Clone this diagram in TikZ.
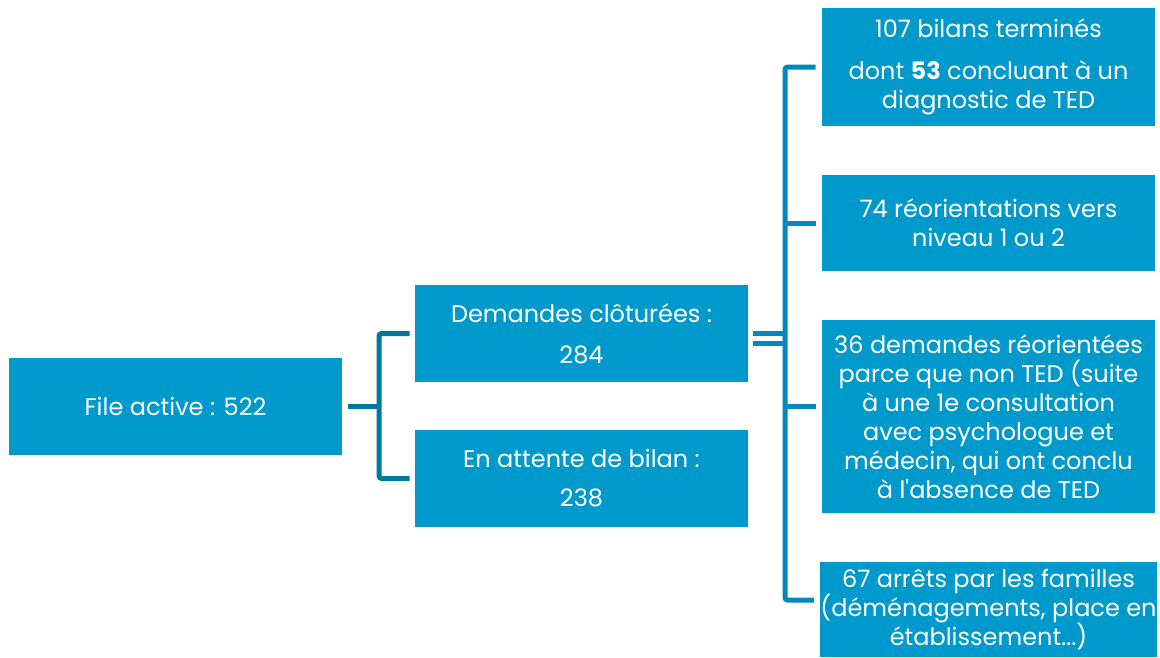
\documentclass[tikz,border=0pt]{standalone}
\usepackage{fontspec}
\setmainfont{Poppins}
\newfontfamily\plainpop{Poppins}
\usetikzlibrary{calc}
\definecolor{boxc}{HTML}{0099CC}
\definecolor{connl}{HTML}{00789F}
\definecolor{connr}{HTML}{0089BD}
\begin{document}
\begin{tikzpicture}[x=0.75pt,y=-0.75pt,
  box/.style={fill=boxc, text=white, inner sep=0pt, minimum width=249.75pt, align=center,
    font=\fontsize{18}{21.75}\selectfont},
  connL/.style={draw=connl, line width=3.75pt, rounded corners=2pt},
  connR/.style={draw=connr, line width=3.75pt, rounded corners=2pt}]
\useasboundingbox (0,0) rectangle (1160,657);

\node[box, minimum height=72.75pt] (file) at (175.5,406.5) {File active : 522};
\node[box, minimum height=72.75pt] (dem) at (581.5,333.5) {Demandes clôturées :\\[9pt]284};
\node[box, minimum height=72.75pt] (att) at (581.5,478.5) {En attente de bilan :\\[7.5pt]238};
\node[box, minimum height=88.5pt] (r1) at (988.5,67) {107 bilans terminés\\[10pt]dont \textbf{53} concluant à un\\diagnostic de TED};
\node[box, minimum height=72pt] (r2) at (988.5,223) {74 réorientations vers\\niveau 1 ou 2};
\node[box, minimum height=144.75pt] (r3) at (988.5,416.5) {36 demandes réorientées\\parce que non TED (suite\\à une 1e consultation\\avec psychologue et\\médecin, qui ont conclu\\à l{\plainpop '}absence de TED};
\node[box, minimum height=71.25pt] (r4) at (988.5,609.5) {67 arrêts par les familles\\(déménagements, place en\\établissement...)};

% left bracket
\coordinate (jl) at (379,406.5);
\draw[connL] ([xshift=4.5pt]file.east) -- (jl);
\draw[connL] ([xshift=-3.75pt]dem.west) -| (jl) |- ([xshift=-3.75pt]att.west);

% right bracket
\coordinate (jr) at (785,333.5);
\draw[connR] ([xshift=-4.5pt]r1.west) -| (jr) |- ([xshift=-4.5pt,yshift=7pt]r4.west);
\draw[connR] (jr |- r2.west) -- ([xshift=-4.5pt]r2.west);
\draw[connR] ($(jr |- r3.west)+(0,-10)$) -- ([xshift=-4.5pt,yshift=7.5pt]r3.west);
\draw[connR] ([xshift=3.75pt]dem.east) -- (jr |- dem.east);
\draw[connR] ([xshift=3.75pt,yshift=-7.5pt]dem.east) -- ($(jr |- dem.east)+(0,10)$);
\end{tikzpicture}
\end{document}
